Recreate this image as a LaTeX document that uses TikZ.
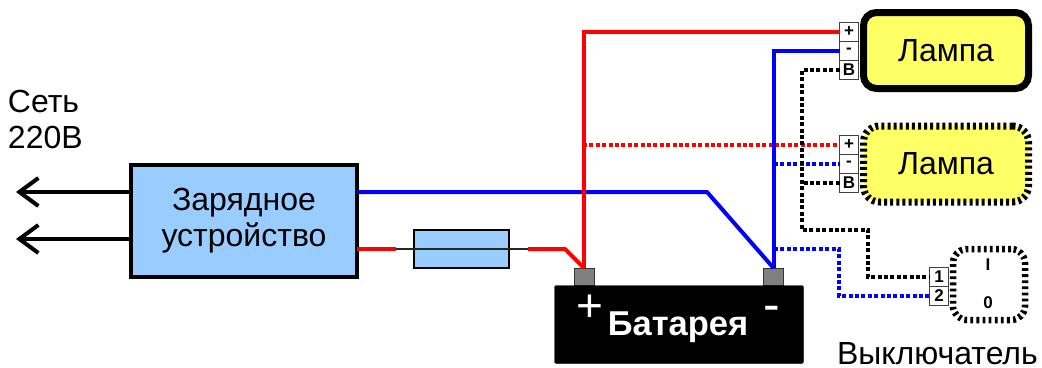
\documentclass[tikz,border=0pt]{standalone}
\usepackage{fontspec}
\setmainfont{Liberation Sans}
\usetikzlibrary{arrows.meta, calc}
\definecolor{wirered}{RGB}{255, 0, 0}
\definecolor{wireblue}{RGB}{0, 0, 255}
\definecolor{boxblue}{RGB}{153, 204, 255}
\definecolor{lampyellow}{RGB}{255, 255, 102}
\definecolor{postgray}{RGB}{128, 128, 128}

\begin{document}
\begin{tikzpicture}[x=1pt, y=-1pt,
    every node/.style={inner sep=0pt, outer sep=0pt},
    label/.style={font=\fontsize{32}{36}\selectfont, align=center},
    lampbox/.style={draw=black, fill=lampyellow, rounded corners=13pt, line width=7pt, minimum width=165pt, minimum height=76pt, label},
    pin/.style={draw=black!75, fill=white, line width=1pt, minimum width=19pt, minimum height=19pt, font=\fontsize{17}{17}\selectfont\bfseries},
    post/.style={draw=black!80, fill=postgray, line width=1pt, minimum width=20pt, minimum height=17pt},
    dots/.style={dash pattern=on 4pt off 2.4pt},
    wire/.style={line width=4pt},
    mains/.style={line width=4pt, draw=black, -{Straight Barb[length=19pt, width=28pt, line width=4pt]}}
  ]
  \useasboundingbox (0,0) rectangle (1042,367);

  % Charger section
  \node[draw=black, fill=boxblue, line width=4pt, minimum width=226pt, minimum height=112pt, label] (charger) at (244,221) {Зарядное\\устройство};
  \node[label, align=left, anchor=north west] (mains220) at (8,90) {Сеть\\220В};
  \coordinate (mainsa) at (16,192);
  \coordinate (mainsb) at (16,239);
  \draw[mains] (charger.west |- mainsa) -- (mainsa);
  \draw[mains] (charger.west |- mainsb) -- (mainsb);

  % Fuse
  \node[draw=black, fill=boxblue, line width=1.3pt, minimum width=95pt, minimum height=38pt] (fuse) at (461.5,249) {};
  \coordinate (fusein) at (396,249);
  \coordinate (fuseout) at (528,249);
  \draw[line width=1.2pt, black!85] (fusein) -- (fuseout);

  % Battery
  \node[post] (postplus) at (584,276.5) {};
  \node[post] (postminus) at (773.5,276.5) {};
  \node[draw=black, fill=black, rounded corners=2pt, minimum width=249pt, minimum height=78pt] (battery) at (679,324.5) {};
  \node[text=white, font=\fontsize{34.5}{34.5}\selectfont\bfseries] (batlabel) at (678,327) {Батарея};
  \node[text=white, font=\fontsize{46}{46}\selectfont] (batplus) at (590,308) {+};
  \node[text=white, font=\fontsize{50}{50}\selectfont] (batminus) at (772,314) {-};

  % Lamps
  \node[lampbox] (lampa) at (946,50.5) {Лампа};
  \node[lampbox, dash pattern=on 3pt off 3.1pt, rounded corners=16pt] (lampb) at (946,164) {Лампа};
  \node[pin] (aplus) at (849,32) {+};
  \node[pin] (aminus) at (849,51) {-};
  \node[pin] (abat) at (849,70) {В};
  \node[pin] (bplus) at (849,145) {+};
  \node[pin] (bminus) at (849,164) {-};
  \node[pin] (bbat) at (849,183) {В};

  % Switch
  \node[draw=black, fill=white, line width=6.5pt, dash pattern=on 2.8pt off 3.3pt, rounded corners=14pt, minimum width=72pt, minimum height=71pt] (switch) at (989,284.5) {};
  \node[font=\fontsize{17}{17}\selectfont\bfseries] (switchon) at (988,265) {I};
  \node[font=\fontsize{17}{17}\selectfont\bfseries] (switchoff) at (988,303) {0};
  \node[pin] (swa) at (939,277) {1};
  \node[pin] (swb) at (939,296) {2};
  \node[font=\fontsize{32}{32}\selectfont, anchor=base west] (switchname) at (837,364) {Выключатель};

  % Wiring
  \coordinate (redjoin) at (583,145);
  \coordinate (bluejoina) at (774,164);
  \coordinate (bluejoinb) at (774,249);
  \draw[wire, wirered, dots] (redjoin) -- (bplus.west);
  \draw[wire, wireblue, dots] (bluejoina) -- (bminus.west);
  \draw[wire, wireblue, dots] (bluejoinb) -| (839,296) -- (swb.west);
  \draw[wire, wirered, line join=round] (fuseout) -- (565,249) -- (postplus.north);
  \draw[wire, wirered] (charger.east |- fusein) -- (fusein);
  \draw[wire, wireblue, line join=round] (charger.east |- 0,192) -- (707,192) -- (postminus.north);
  \draw[wire, wireblue] (postminus.north) |- (aminus.west);
  \draw[wire, wirered] (postplus.north) |- (aplus.west);
  \draw[wire, black, dots] (abat.west) -| (802,230) -| (868,277) -- (swa.west);
  \draw[wire, black, dots] (bbat.west) -- (802,183);
\end{tikzpicture}
\end{document}
